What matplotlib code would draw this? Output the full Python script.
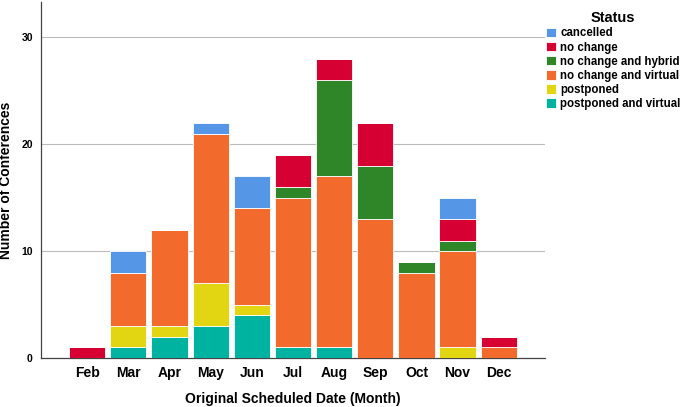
import numpy as np
import matplotlib
matplotlib.use('Agg')
import matplotlib.pyplot as plt

plt.rcParams['font.family'] = ['Liberation Sans', 'DejaVu Sans']

# months and stacked counts per status (bottom to top)
months = ['Feb', 'Mar', 'Apr', 'May', 'Jun', 'Jul', 'Aug', 'Sep', 'Oct', 'Nov', 'Dec']
postponed_virtual = [0, 1, 2, 3, 4, 1, 1, 0, 0, 0, 0]
postponed = [0, 2, 1, 4, 1, 0, 0, 0, 0, 1, 0]
no_change_virtual = [0, 5, 9, 14, 9, 14, 16, 13, 8, 9, 1]
no_change_hybrid = [0, 0, 0, 0, 0, 1, 9, 5, 1, 1, 0]
no_change = [1, 0, 0, 0, 0, 3, 2, 4, 0, 2, 1]
cancelled = [0, 2, 0, 1, 3, 0, 0, 0, 0, 2, 0]

series = [
    ('postponed and virtual', postponed_virtual, '#00b2a0'),
    ('postponed', postponed, '#e2d512'),
    ('no change and virtual', no_change_virtual, '#f26b2d'),
    ('no change and hybrid', no_change_hybrid, '#2e8629'),
    ('no change', no_change, '#d70033'),
    ('cancelled', cancelled, '#5596e6'),
]

fig = plt.figure(figsize=(6.85, 4.07), dpi=100)
ax = fig.add_axes([0.06, 0.12, 0.736, 0.875])

x = np.arange(len(months))
bottom = np.zeros(len(months))
handles = {}
for name, vals, col in series:
    vals = np.array(vals, dtype=float)
    b = ax.bar(x, vals, width=0.88, bottom=bottom, color=col,
               edgecolor='white', linewidth=0.6, zorder=3)
    handles[name] = b
    bottom += vals

ax.set_xlim(-1.12, 11.13)
ax.set_ylim(0, 33.3)
ax.set_yticks([0, 10, 20, 30])
ax.set_xticks(x)
ax.set_xticklabels(months, fontsize=10, fontweight='bold')
for t in ax.get_yticklabels():
    t.set_fontsize(7.5)
    t.set_fontweight('bold')
ax.tick_params(length=0, pad=6)
ax.yaxis.grid(True, color='#bbbbbb', linewidth=0.8, zorder=0)
ax.set_axisbelow(True)
for s in ['top', 'right']:
    ax.spines[s].set_visible(False)
for s in ['left', 'bottom']:
    ax.spines[s].set_color('#444444')
    ax.spines[s].set_linewidth(0.9)

xl = ax.set_xlabel('Original Scheduled Date (Month)', fontsize=10, fontweight='bold', labelpad=8)
xl.set_fontstretch('expanded')
ax.set_ylabel('Number of Conferences', fontsize=10, fontweight='bold', labelpad=6)

order = ['cancelled', 'no change', 'no change and hybrid', 'no change and virtual',
         'postponed', 'postponed and virtual']
leg = fig.legend([handles[n] for n in order], order, loc='upper left',
                 bbox_to_anchor=(0.797, 0.972), frameon=False, title='Status',
                 prop={'size': 8.3, 'weight': 'bold'}, handlelength=0.9,
                 handleheight=0.9, handletextpad=0.35, labelspacing=0.18,
                 borderaxespad=0, borderpad=0)
leg.get_title().set_fontweight('bold')
leg.get_title().set_fontsize(10.5)

fig.savefig('out.png', dpi=100)
